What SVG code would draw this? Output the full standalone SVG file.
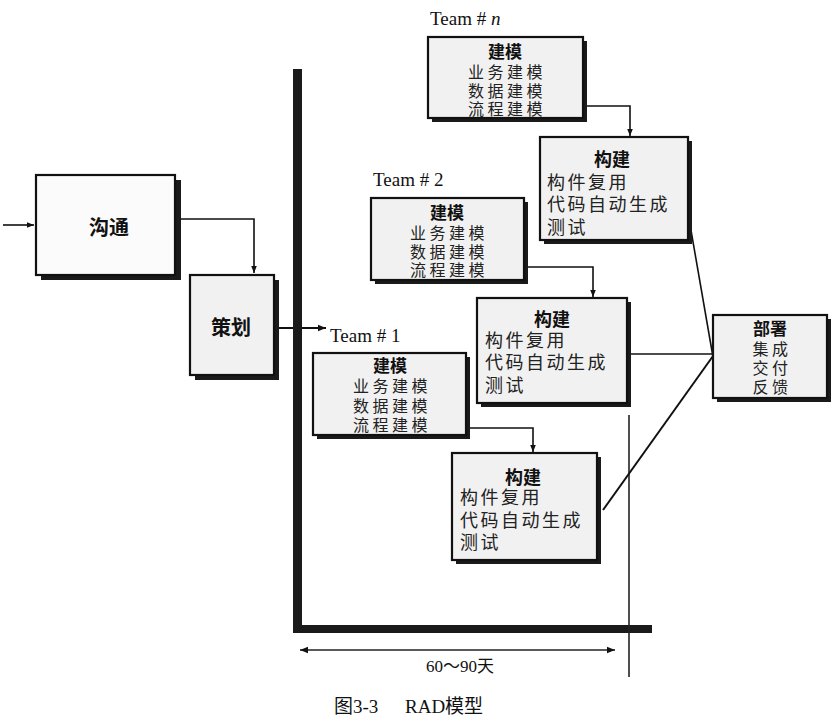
<svg xmlns="http://www.w3.org/2000/svg" width="833" height="726" viewBox="0 0 833 726">
<style>
.box{fill:#f1f1f1;stroke:#111;stroke-width:2.2}
.shadow{fill:#1a1a1a}
.cj{font-family:"Liberation Serif","Noto Sans CJK SC",serif;font-size:16px;fill:#222}
.cj tspan.b{font-size:17px;font-weight:bold;fill:#111;letter-spacing:0}
.cj tspan.n{letter-spacing:3.5px}
.cjl{font-family:"Liberation Serif","Noto Sans CJK SC",serif;font-size:18px;fill:#222}
.cjl tspan.b{font-weight:bold;fill:#111;letter-spacing:0}
.cjl tspan.n{letter-spacing:2.5px}
.title{font-family:"Noto Sans CJK SC","Noto Sans",sans-serif;font-size:20px;font-weight:bold;fill:#111}
.lat{font-family:"Liberation Serif","Noto Sans CJK SC",serif;font-size:19px;fill:#111}
.c{text-anchor:middle}
.ln{fill:none;stroke:#111;stroke-width:1.6}
</style>
<defs>
<marker id="ah" viewBox="0 0 10 10" refX="10" refY="5" markerWidth="7" markerHeight="7" markerUnits="userSpaceOnUse" orient="auto-start-reverse">
<path d="M0,1 L10,5 L0,9 Z" fill="#111"/>
</marker>
<marker id="ah2" viewBox="0 0 10 10" refX="10" refY="5" markerWidth="10" markerHeight="8" markerUnits="userSpaceOnUse" orient="auto-start-reverse">
<path d="M0,1 L10,5 L0,9 Z" fill="#111"/>
</marker>
</defs>
<rect width="833" height="726" fill="#ffffff"/>

<g id="axes">
<rect x="293" y="69" width="9" height="564" fill="#1a1a1a"/>
<rect x="293" y="625" width="359" height="8" fill="#1a1a1a"/>
<line x1="629" y1="415" x2="629" y2="677" stroke="#222" stroke-width="1.6"/>
<line x1="300" y1="650" x2="615" y2="650" stroke="#222" stroke-width="1.6" marker-start="url(#ah2)" marker-end="url(#ah2)"/>
<text class="lat c" x="460" y="672" style="font-size:17px">60～90天</text>
<text class="lat" x="334" y="713" style="font-size:19px">图3-3</text>
<text class="lat" x="405" y="713" style="font-size:19px">RAD模型</text>
</g>

<g id="connectors">
<path class="ln" d="M3,225 H34" marker-end="url(#ah)"/>
<path class="ln" d="M175,219 H254 V273" marker-end="url(#ah)"/>
<path class="ln" d="M274,328 H293" style="stroke-width:2"/>
<path class="ln" d="M302,328 H326" style="stroke-width:2" marker-end="url(#ah2)"/>
<path class="ln" d="M583,106 H630 V136" marker-end="url(#ah)"/>
<path class="ln" d="M524,267 H593 V297" marker-end="url(#ah)"/>
<path class="ln" d="M466,428 H533 V452" marker-end="url(#ah)"/>
<path class="ln" d="M688,213 L713,357"/>
<path class="ln" d="M627,354 H713"/>
<path class="ln" d="M603,510 L713,356" style="stroke-width:2"/>
</g>

<g id="goutong">
<rect class="shadow" x="41" y="180" width="140" height="100"/>
<rect class="box" x="36" y="175" width="139" height="100" style="fill:#fbfbfb"/>
<text class="title c" x="109" y="235">沟通</text>
</g>

<g id="cehua">
<rect class="shadow" x="195" y="280" width="84" height="100"/>
<rect class="box" x="190" y="275" width="84" height="100"/>
<text class="title c" x="231" y="335">策划</text>
</g>

<g id="team-n-label"><text class="lat" x="430" y="25">Team # <tspan font-style="italic">n</tspan></text></g>
<g id="team-2-label"><text class="lat" x="373" y="186">Team # 2</text></g>
<g id="team-1-label"><text class="lat" x="330" y="342">Team # 1</text></g>

<g id="jianmo-n">
<rect class="shadow" x="432" y="41" width="155" height="81"/>
<rect class="box" x="428" y="37" width="155" height="81"/>
<text class="cj c"><tspan class="b" x="505" y="58">建模</tspan><tspan class="n" x="507" y="78">业务建模</tspan><tspan class="n" x="507" y="97">数据建模</tspan><tspan class="n" x="507" y="115">流程建模</tspan></text>
</g>

<g id="goujian-n">
<rect class="shadow" x="544" y="141" width="148" height="103"/>
<rect class="box" x="540" y="137" width="148" height="103"/>
<text class="cjl"><tspan class="b" x="612" y="166" text-anchor="middle">构建</tspan><tspan class="n" x="547" y="189" text-anchor="start">构件复用</tspan><tspan class="n" x="547" y="211" text-anchor="start">代码自动生成</tspan><tspan class="n" x="547" y="234" text-anchor="start">测试</tspan></text>
</g>

<g id="jianmo-2">
<rect class="shadow" x="375" y="202" width="153" height="82"/>
<rect class="box" x="371" y="198" width="153" height="82"/>
<text class="cj c"><tspan class="b" x="447" y="219">建模</tspan><tspan class="n" x="449" y="239">业务建模</tspan><tspan class="n" x="449" y="258">数据建模</tspan><tspan class="n" x="449" y="276">流程建模</tspan></text>
</g>

<g id="goujian-2">
<rect class="shadow" x="481" y="302" width="150" height="105"/>
<rect class="box" x="477" y="298" width="150" height="105"/>
<text class="cjl"><tspan class="b" x="552" y="326" text-anchor="middle">构建</tspan><tspan class="n" x="485" y="347" text-anchor="start">构件复用</tspan><tspan class="n" x="485" y="369" text-anchor="start">代码自动生成</tspan><tspan class="n" x="485" y="392" text-anchor="start">测试</tspan></text>
</g>

<g id="jianmo-1">
<rect class="shadow" x="317" y="357" width="153" height="82"/>
<rect class="box" x="313" y="353" width="153" height="82"/>
<text class="cj c"><tspan class="b" x="390" y="372">建模</tspan><tspan class="n" x="392" y="392">业务建模</tspan><tspan class="n" x="392" y="412">数据建模</tspan><tspan class="n" x="392" y="431">流程建模</tspan></text>
</g>

<g id="goujian-1">
<rect class="shadow" x="456" y="457" width="145" height="107"/>
<rect class="box" x="452" y="453" width="145" height="107"/>
<text class="cjl"><tspan class="b" x="523" y="484" text-anchor="middle">构建</tspan><tspan class="n" x="460" y="504" text-anchor="start">构件复用</tspan><tspan class="n" x="460" y="527" text-anchor="start">代码自动生成</tspan><tspan class="n" x="460" y="549" text-anchor="start">测试</tspan></text>
</g>

<g id="bushu">
<rect class="shadow" x="717" y="319" width="114" height="83"/>
<rect class="box" x="713" y="315" width="114" height="83"/>
<text class="cj c"><tspan class="b" x="770" y="335">部署</tspan><tspan class="n" x="772" y="355">集成</tspan><tspan class="n" x="772" y="374">交付</tspan><tspan class="n" x="772" y="393">反馈</tspan></text>
</g>
</svg>
